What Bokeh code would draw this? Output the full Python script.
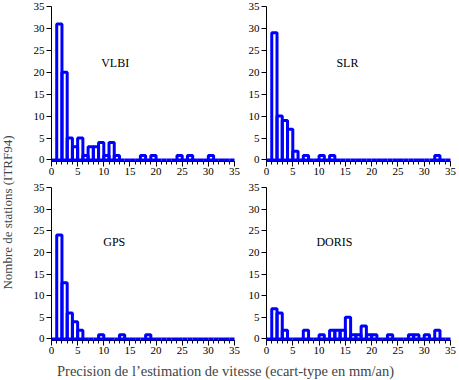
import math
from bokeh.plotting import figure
from bokeh.layouts import column, row
from bokeh.models import Range1d, FixedTicker, Label, ColumnDataSource
from bokeh.embed import file_html
from bokeh.resources import INLINE

# histogram bins (mm/an), 1 mm/an wide, from 0 to 35
bin_edges = list(range(36))

# number of stations per bin, per technique
vlbi = [0, 31, 20, 5, 3, 5, 1, 3, 3, 4,
        1, 4, 1, 0, 0, 0, 0, 1, 0, 1,
        0, 0, 0, 0, 1, 0, 1, 0, 0, 0,
        1, 0, 0, 0, 0]
slr = [0, 29, 10, 9, 7, 2, 0, 1, 0, 0,
       1, 0, 1, 0, 0, 0, 0, 0, 0, 0,
       0, 0, 0, 0, 0, 0, 0, 0, 0, 0,
       0, 0, 1, 0, 0]
gps = [0, 24, 13, 6, 4, 2, 0, 0, 0, 1,
       0, 0, 0, 1, 0, 0, 0, 0, 1, 0,
       0, 0, 0, 0, 0, 0, 0, 0, 0, 0,
       0, 0, 0, 0, 0]
doris = [0, 7, 6, 2, 0, 0, 0, 2, 0, 0,
         1, 0, 2, 2, 2, 5, 1, 1, 3, 1,
         1, 0, 0, 1, 0, 0, 0, 1, 1, 0,
         1, 0, 2, 0, 0]

names = ["VLBI", "SLR", "GPS", "DORIS"]
x_ticks = [0, 5, 10, 15, 20, 25, 30, 35]
y_ticks = [0, 5, 10, 15, 20, 25, 30, 35]
y_label = "Nombre de stations (ITRF94)"
x_label = "Precision de l\u2019estimation de vitesse (ecart-type en mm/an)"

FONT = "'Liberation Serif', 'Times New Roman', serif"
BLUE = "#0000ff"


def panel(counts, name, width, height, bl, br, bt, bb, lx, ly):
    p = figure(width=width, height=height,
               x_range=Range1d(0, 35), y_range=Range1d(-0.35, 35),
               output_backend="svg", toolbar_location=None,
               min_border_left=bl, min_border_right=br,
               min_border_top=bt, min_border_bottom=bb)
    p.grid.visible = False
    p.outline_line_color = None
    p.background_fill_color = "white"
    p.border_fill_color = "white"
    src = ColumnDataSource(dict(left=bin_edges[:-1], right=bin_edges[1:],
                                top=counts, bottom=[0] * len(counts)))
    p.quad(left="left", right="right", top="top", bottom="bottom", source=src,
           fill_color=None, line_color=BLUE, line_width=3, level="overlay")
    xa = p.xaxis[0]
    xa.ticker = FixedTicker(ticks=x_ticks, minor_ticks=bin_edges)
    xa.major_tick_out = 5
    xa.major_tick_in = 0
    xa.minor_tick_out = 3
    xa.minor_tick_in = 0
    xa.major_label_standoff = 1
    ya = p.yaxis[0]
    ya.ticker = FixedTicker(ticks=y_ticks, minor_ticks=[])
    ya.major_tick_out = 5
    ya.major_tick_in = 0
    ya.major_label_standoff = 2
    for ax in (xa, ya):
        ax.major_label_text_font = FONT
        ax.major_label_text_font_size = "11px"
        ax.major_label_text_color = "black"
        ax.major_tick_line_color = "black"
        ax.minor_tick_line_color = "black"
        ax.axis_line_color = "black"
    p.add_layout(Label(x=lx, y=ly, text=name, text_font=FONT,
                       text_font_size="12px", text_baseline="middle",
                       text_align="left", text_color="black"))
    return p


tl = panel(vlbi, names[0], 224, 181, 31, 10, 6, 20, 9.5, 22.2)
tr = panel(slr, names[1], 215, 181, 22, 9, 6, 20, 13.3, 22.2)
bl = panel(gps, names[2], 224, 177, 31, 10, 6, 18, 9.9, 22.3)
br = panel(doris, names[3], 215, 177, 22, 9, 6, 18, 9.5, 22.5)

H = 358
ylab = figure(width=20, height=H, x_range=Range1d(0, 20), y_range=Range1d(0, H),
              output_backend="svg", toolbar_location=None,
              min_border=0, outline_line_color=None)
ylab.axis.visible = False
ylab.grid.visible = False
ylab.add_layout(Label(x=7, y=H - 212, text=y_label, angle=math.pi / 2,
                      text_font=FONT, text_font_size="13px",
                      text_align="center", text_baseline="middle"))

xlab = figure(width=459, height=22, x_range=Range1d(0, 459), y_range=Range1d(0, 22),
              output_backend="svg", toolbar_location=None,
              min_border=0, outline_line_color=None)
xlab.axis.visible = False
xlab.grid.visible = False
xlab.add_layout(Label(x=225, y=10, text=x_label, text_font=FONT,
                      text_font_size="14.5px", text_align="center",
                      text_baseline="middle"))

grid = column(row(tl, tr), row(bl, br))
layout = column(row(ylab, grid), xlab)

open("out.html", "w").write(file_html(layout, INLINE))
